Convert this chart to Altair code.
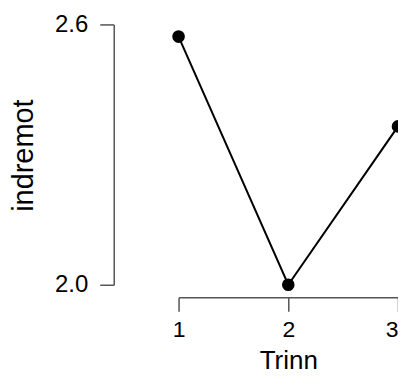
import altair as alt
import pandas as pd

trinn = [1, 2, 3]
indremot = [2.572, 2.0, 2.365]
y_ticks = [2.0, 2.6]

df = pd.DataFrame({"Trinn": trinn, "indremot": indremot})

FONT = "Liberation Sans"

x_enc = alt.X(
    "Trinn:O",
    scale=alt.Scale(type="point", padding=0),
    axis=alt.Axis(
        grid=False, offset=12.5, labelAngle=0,
        tickSize=14, tickWidth=1.5, domainWidth=1.5,
        domainColor="#555555", tickColor="#555555",
        labelFontSize=23, labelFont=FONT, labelColor="#000000", labelPadding=7,
        labelOverlap=False,
        labelAlign={"condition": {"test": "datum.value == 3", "value": "right"}, "value": "center"},
        title="Trinn", titleFontSize=26, titleFont=FONT, titleFontWeight="normal",
        titleColor="#000000", titleBaseline="alphabetic", titleY=71.5,
    ),
)
y_enc = alt.Y(
    "indremot:Q",
    scale=alt.Scale(domain=[2.0, 2.6], nice=False, zero=False),
    axis=alt.Axis(
        values=y_ticks, format=".1f", grid=False, offset=65,
        tickSize=14, tickWidth=1.5, domainWidth=1.5,
        domainColor="#555555", tickColor="#555555",
        labelFontSize=24, labelFont=FONT, labelColor="#000000", labelPadding=12,
        labelFlush=False, labelOverlap=False,
        title="indremot", titleFontSize=29, titleFont=FONT, titleFontWeight="normal",
        titleColor="#000000", titleBaseline="alphabetic", titleAngle=270,
        titleX=-81, titleY=131, titleAlign="center",
    ),
)

base = alt.Chart(df).encode(x=x_enc, y=y_enc)
line = base.mark_line(color="#000000", strokeWidth=2, clip=False)
pts = base.mark_circle(color="#000000", size=160, opacity=1, clip=False)

chart = alt.layer(line, pts).properties(
    width=220, height=261,
    background="#ffffff",
    autosize=alt.AutoSizeParams(type="none"),
    padding={"left": 171, "top": 16, "right": 0, "bottom": 90},
).configure_view(strokeWidth=0, strokeOpacity=0)

chart.save("out.html", embed_options={"renderer": "svg", "actions": False})
